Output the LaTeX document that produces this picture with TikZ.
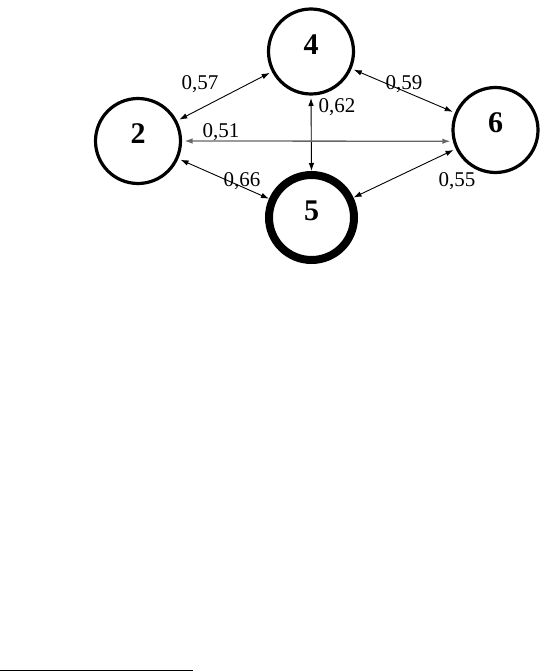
\documentclass[tikz,border=0pt]{standalone}
\usepackage{fontspec}
\setmainfont{Liberation Serif}
\usetikzlibrary{arrows.meta}
\begin{document}
\begin{tikzpicture}[x=1pt,y=-1pt,
  vertex/.style={circle,draw,line width=3.2pt,minimum size=85pt,inner sep=0pt,outer sep=4pt},
  digit/.style={font=\fontsize{30}{30}\selectfont\bfseries,inner sep=0pt,yshift=7pt},
  link/.style={{Latex[length=8pt,width=5.5pt]}-{Latex[length=8pt,width=5.5pt]},line width=0.9pt},
  wlabel/.style={anchor=base,inner sep=0pt,font=\fontsize{21}{21}\selectfont}]
\useasboundingbox (0,0) rectangle (543,671);
\node[vertex,label={[digit]center:2}] (n2) at (138,141) {};
\node[vertex,label={[digit]center:4}] (n4) at (311,51.5) {};
\node[vertex,line width=8pt,label={[digit]center:5}] (n5) at (311.5,217.5) {};
\node[vertex,label={[digit]center:6}] (n6) at (495.5,130) {};
\draw[link] (n2) -- (n4);
\draw[link] (n4) -- (n6);
\draw[link] (n4.south) -- (n5.north);
\draw[link] (n2) -- (n5);
\draw[link] (n5) -- (n6);
\draw[link,draw=black!60,line width=1.3pt] (n2.east) -- (n6.194.5);
\node[wlabel] (l57) at (200,90) {0,57};
\node[wlabel] (l59) at (404,90) {0,59};
\node[wlabel] (l62) at (337,113) {0,62};
\node[wlabel] (l51) at (221,138) {0,51};
\node[wlabel] (l66) at (242,186) {0,66};
\node[wlabel] (l55) at (457,186) {0,55};
\coordinate (r1) at (0,670);
\coordinate (r2) at (193,670);
\draw[line width=1pt] (r1) -- (r2);
\end{tikzpicture}
\end{document}
